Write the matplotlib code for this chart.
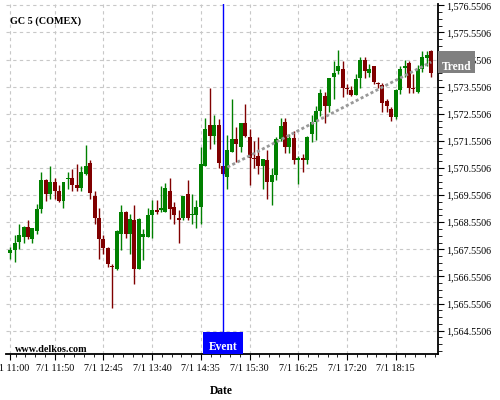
import matplotlib
matplotlib.use("Agg")
import matplotlib.pyplot as plt
import matplotlib.dates as mdates
import matplotlib.transforms as mtransforms
from matplotlib.patches import Rectangle
from matplotlib.ticker import FixedLocator, FuncFormatter, AutoMinorLocator
import pandas as pd

symbol = "GC 5 (COMEX)"
day = "2014-07-01"
start_time = "11:00"

# 5 minute candles
opens = [1567.42, 1567.52, 1567.81, 1568.01, 1568.39, 1567.93, 1568.23, 1569.03, 1570.12, 1569.61,
         1570.02, 1569.72, 1569.32, 1570.13, 1570.20, 1569.92, 1569.81, 1570.32, 1570.73, 1569.50,
         1568.70, 1567.94, 1567.61, 1566.93, 1566.81, 1568.13, 1568.91, 1568.13, 1568.62, 1566.84,
         1568.00, 1568.00, 1568.82, 1569.01, 1569.01, 1568.92, 1569.72, 1569.10, 1568.71, 1568.71,
         1569.60, 1568.81, 1568.81, 1569.11, 1570.62, 1572.12, 1571.72, 1572.12, 1570.61, 1570.22,
         1571.14, 1571.63, 1571.32, 1572.21, 1571.71, 1570.93, 1571.01, 1570.61, 1570.83, 1570.03,
         1570.30, 1571.62, 1572.23, 1571.32, 1571.65, 1570.85, 1570.91, 1570.85, 1571.81, 1572.24,
         1572.64, 1573.22, 1572.83, 1573.92, 1574.14, 1574.21, 1573.52, 1573.43, 1573.24, 1573.86,
         1574.54, 1574.04, 1574.32, 1573.67, 1573.62, 1573.03, 1572.73, 1572.42, 1573.43, 1574.24,
         1574.44, 1573.52, 1573.34, 1574.20, 1574.60, 1574.85]
highs = [1567.64, 1568.08, 1568.47, 1568.40, 1568.62, 1568.33, 1569.21, 1570.41, 1570.13, 1570.61,
         1570.18, 1569.91, 1570.03, 1570.41, 1570.52, 1570.70, 1570.61, 1571.40, 1570.83, 1569.70,
         1569.08, 1568.07, 1567.64, 1567.00, 1568.25, 1569.20, 1568.98, 1568.86, 1569.20, 1568.70,
         1568.31, 1569.08, 1569.38, 1569.38, 1569.90, 1570.00, 1570.19, 1569.30, 1568.99, 1569.51,
         1570.12, 1569.60, 1569.36, 1571.32, 1572.39, 1573.50, 1572.52, 1572.36, 1570.62, 1571.75,
         1573.10, 1572.05, 1572.22, 1572.91, 1571.99, 1571.53, 1571.69, 1570.90, 1571.20, 1570.56,
         1571.69, 1572.40, 1572.40, 1571.81, 1571.93, 1571.01, 1571.07, 1571.72, 1572.52, 1572.85,
         1573.46, 1573.34, 1573.87, 1574.50, 1574.90, 1574.50, 1573.65, 1573.59, 1574.01, 1574.63,
         1574.63, 1574.38, 1574.33, 1573.74, 1573.67, 1573.10, 1572.81, 1573.46, 1574.32, 1574.53,
         1574.50, 1574.01, 1574.36, 1574.87, 1574.85, 1574.90]
lows = [1567.21, 1567.09, 1567.58, 1567.79, 1567.95, 1567.79, 1568.13, 1568.90, 1569.32, 1569.41,
        1569.42, 1569.30, 1569.09, 1569.79, 1569.72, 1569.72, 1569.70, 1570.30, 1569.42, 1568.49,
        1567.21, 1567.39, 1566.90, 1565.37, 1566.80, 1567.51, 1567.98, 1567.39, 1566.29, 1566.83,
        1567.15, 1567.99, 1567.98, 1568.84, 1568.92, 1568.91, 1568.68, 1568.50, 1567.80, 1568.62,
        1568.62, 1568.50, 1568.32, 1568.50, 1570.61, 1571.26, 1571.42, 1570.56, 1570.31, 1569.79,
        1571.13, 1570.77, 1571.14, 1571.71, 1569.91, 1570.56, 1570.34, 1569.79, 1569.42, 1569.20,
        1570.09, 1571.56, 1571.10, 1571.10, 1570.68, 1569.97, 1570.40, 1570.68, 1571.50, 1571.59,
        1572.48, 1572.20, 1572.61, 1573.10, 1574.01, 1573.16, 1573.28, 1573.22, 1573.23, 1573.52,
        1573.87, 1573.89, 1573.65, 1573.52, 1572.61, 1572.61, 1572.30, 1572.34, 1573.28, 1573.89,
        1573.30, 1573.30, 1573.33, 1574.08, 1574.32, 1573.89]
closes = [1567.52, 1567.80, 1568.09, 1568.39, 1568.01, 1568.32, 1569.03, 1570.12, 1569.61, 1570.02,
          1569.72, 1569.32, 1570.02, 1570.20, 1569.92, 1569.81, 1570.42, 1570.61, 1569.63, 1568.70,
          1567.94, 1567.61, 1567.00, 1566.90, 1568.21, 1568.91, 1568.13, 1568.68, 1566.84, 1568.68,
          1568.10, 1568.80, 1569.01, 1568.92, 1569.05, 1569.81, 1569.05, 1568.81, 1568.62, 1569.50,
          1568.71, 1568.84, 1569.10, 1570.71, 1571.99, 1571.72, 1572.12, 1570.73, 1570.34, 1571.23,
          1571.63, 1571.44, 1572.21, 1571.72, 1570.93, 1570.88, 1570.62, 1570.89, 1570.03, 1570.30,
          1571.62, 1572.11, 1571.32, 1571.65, 1570.85, 1570.91, 1570.85, 1571.71, 1572.24, 1572.64,
          1573.33, 1572.83, 1573.86, 1574.04, 1574.33, 1573.52, 1573.46, 1573.24, 1573.83, 1574.54,
          1574.14, 1574.20, 1573.74, 1573.65, 1572.94, 1572.83, 1572.42, 1573.43, 1574.20, 1574.32,
          1573.52, 1573.46, 1574.20, 1574.63, 1574.73, 1574.04]

x_tick_times = ["11:00", "11:50", "12:45", "13:40", "14:35", "15:30", "16:25", "17:20", "18:15"]
y_tick_values = [1564.5506, 1565.5506, 1566.5506, 1567.5506, 1568.5506, 1569.5506, 1570.5506,
                 1571.5506, 1572.5506, 1573.5506, 1574.5506, 1575.5506, 1576.5506]
event_time = "15:00"
trend_times = ["15:05", "18:55"]
trend_values = [1570.58, 1574.46]

UP = "#008000"
DOWN = "#800000"
FS = 7.3


def main():
    plt.rcParams["font.family"] = ["Liberation Serif", "DejaVu Serif"]
    fig = plt.figure(figsize=(5, 4), dpi=100)
    ax = fig.add_axes([0.012, 0.115, 0.864, 0.875])

    times = pd.date_range(f"{day} {start_time}", periods=len(opens), freq="5min")
    draw_candles(ax, times)
    draw_event(ax)
    draw_trend(ax)
    style_axes(ax, times)
    add_labels(fig, ax)

    fig.savefig("out.png", dpi=100)


def to_num(hhmm):
    return mdates.date2num(pd.Timestamp(f"{day} {hhmm}"))


def draw_candles(ax, times):
    x = mdates.date2num(times)
    width = 4.5 / 1440
    for xi, o, h, l, c in zip(x, opens, highs, lows, closes):
        color = UP if c >= o else DOWN
        ax.vlines(xi, l, h, color=color, linewidth=1, zorder=3)
        bottom = min(o, c)
        height = max(abs(c - o), 0.05)
        ax.bar(xi, height, width=width, bottom=bottom, color=color, linewidth=0, zorder=3)


def draw_event(ax):
    xe = to_num(event_time)
    ax.axvline(xe, color="#0000ff", linewidth=1, zorder=4)
    trans = mtransforms.blended_transform_factory(ax.transData, ax.transAxes)
    half = 23 / 1440
    box = Rectangle((xe - half, 0), 2 * half, 0.063, transform=trans,
                    facecolor="#0000ff", edgecolor="none", zorder=5, clip_on=False)
    ax.add_patch(box)
    ax.text(xe, 0.01, "Event", transform=trans, ha="center", va="baseline",
            color="white", fontweight="bold", fontsize=8.3, zorder=6)


def draw_trend(ax):
    xs = [to_num(t) for t in trend_times]
    ax.plot(xs, trend_values, color="#999999", linewidth=2,
            linestyle=(0, (1.1, 0.9)), zorder=4)


def style_axes(ax, times):
    x0 = mdates.date2num(times[0])
    minute = 1 / 1440
    ax.set_xlim(x0 - 4.9 * minute, x0 + 482.7 * minute)
    ax.set_ylim(1563.69, 1576.60)

    majors = [to_num(t) for t in x_tick_times]
    minors = [to_num(x_tick_times[2]) + k * 11 * minute for k in range(-10, 35)]
    minors = [m for m in minors if min(abs(m - M) for M in majors) > 2 * minute]
    ax.xaxis.set_major_locator(FixedLocator(majors))
    ax.xaxis.set_minor_locator(FixedLocator(minors))
    ax.xaxis.set_major_formatter(FuncFormatter(
        lambda v, pos: "{d.month}/{d.day} {d:%H:%M}".format(d=mdates.num2date(v))))

    ax.yaxis.tick_right()
    ax.yaxis.set_major_locator(FixedLocator(y_tick_values))
    ax.yaxis.set_minor_locator(AutoMinorLocator(4))
    ax.yaxis.set_major_formatter(FuncFormatter(lambda v, pos: f"{v:,.4f}"))

    ax.tick_params(axis="x", which="major", length=4, width=0.8, pad=3.5, labelsize=FS)
    ax.tick_params(axis="x", which="minor", length=2.5, width=0.6)
    ax.tick_params(axis="y", which="major", length=4.5, width=0.8, pad=1, labelsize=FS)
    ax.tick_params(axis="y", which="minor", length=3, width=0.6)

    for side in ["left", "top"]:
        ax.spines[side].set_visible(False)
    for side in ["right", "bottom"]:
        ax.spines[side].set_linewidth(1.3)
        ax.spines[side].set_color("black")

    ax.grid(True, which="major", color="#c8c8c8", linestyle=(0, (3, 3)), linewidth=0.8)
    ax.set_axisbelow(True)


def add_labels(fig, ax):
    ax.text(0.009, 0.943, symbol, transform=ax.transAxes, fontweight="bold",
            fontsize=FS, va="baseline", zorder=6)
    ax.text(0.021, 0.006, "www.delkos.com", transform=ax.transAxes, fontweight="bold",
            fontsize=FS, va="baseline", zorder=6)
    fig.text(0.442, 0.015, "Date", ha="center", va="baseline", fontweight="bold", fontsize=8.3)

    fig.patches.append(Rectangle((438 / 500, 1 - 73 / 400), 37 / 500, 22 / 400,
                                 transform=fig.transFigure, facecolor="#808080",
                                 edgecolor="none", zorder=5))
    fig.text(456.5 / 500, 1 - 70 / 400, "Trend", ha="center", va="baseline",
             color="white", fontweight="bold", fontsize=8.3, zorder=6)


if __name__ == "__main__":
    main()
